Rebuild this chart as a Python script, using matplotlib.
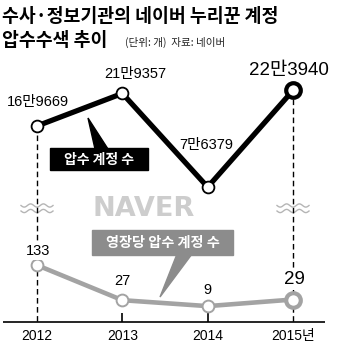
import numpy as np
import matplotlib
matplotlib.use('Agg')
import matplotlib.pyplot as plt
from matplotlib.patches import Rectangle, Polygon

plt.rcParams['font.family'] = ['Liberation Sans', 'Noto Sans CJK KR', 'DejaVu Sans']

years = [2012, 2013, 2014, 2015]
year_labels = ['2012', '2013', '2014', '2015년']
accounts = [169669, 219357, 76379, 223940]
account_labels = ['16만9669', '21만9357', '7만6379', '22만3940']
per_warrant = [133, 27, 9, 29]
per_warrant_labels = ['133', '27', '9', '29']

GRAY = '#a3a3a3'

fig = plt.figure(figsize=(3.5, 3.55), dpi=100)

# overlay for decorations, pixel coords
deco = fig.add_axes([0, 0, 1, 1])
deco.set_xlim(0, 350)
deco.set_ylim(355, 0)
deco.axis('off')

ax1 = fig.add_axes([0, 0, 1, 1], facecolor='none')
ax2 = fig.add_axes([0, 0, 1, 1], facecolor='none')
for ax in (ax1, ax2):
    ax.set_xlim(2011.566, 2015.668)
    ax.axis('off')
ax1.set_ylim(-180000, 362000)
ax2.set_ylim(-139, 936)

# title
deco.text(2, 16, '수사·정보기관의 네이버 누리꾼 계정', fontsize=13.2, fontweight='heavy',
          family='Noto Sans CJK KR', va='center', ha='left')
deco.text(2, 40, '압수수색 추이', fontsize=13.2, fontweight='heavy',
          family='Noto Sans CJK KR', va='center', ha='left')
deco.text(125, 42, '(단위: 개)  자료: 네이버', fontsize=7.6,
          family='Noto Sans CJK KR', va='center', ha='left', color='#222222')

# watermark
deco.text(144, 209, 'NAVER', fontsize=19.5, fontweight='heavy', family='DejaVu Sans',
          color='#cdcdcd', ha='center', va='center', zorder=1)

# x axis
ax2.hlines(-39, 2011.60, 2015.375, color='black', lw=1.2, zorder=2)
ax2.vlines([2013, 2014], -39, -12, color='black', lw=1.2, zorder=2)
for x, lab in zip(years, year_labels):
    ax2.annotate(lab, (x, -39), xytext=(0, -14), textcoords='offset pixels',
                 ha='center', va='center', fontsize=10)

# dashed guides at first and last year
for i in (0, 3):
    ax1.plot([years[i], years[i]], [accounts[i], -130000], color='black', lw=1,
             ls=(0, (4, 2.5)), zorder=2)

# break symbols
t = np.linspace(0, 1, 60)
for cx in (37, 293):
    deco.add_patch(Rectangle((cx - 17, 203), 34, 11, color='white', zorder=3))
    for dy in (205.5, 211):
        deco.plot(cx - 16 + 32 * t, dy + 1.6 * np.sin(t * 2 * np.pi * 2.5), color='#b5b5b5',
                  lw=1, zorder=4)

# top series
ax1.plot(years, accounts, color='black', lw=3.8, zorder=5, solid_joinstyle='miter')
ax1.plot(years[:3], accounts[:3], 'o', ms=8.5, mfc='white', mec='black', mew=1.3, zorder=6)
ax1.plot(years[3:], accounts[3:], 'o', ms=10.5, mfc='white', mec='black', mew=3, zorder=6)
top_offsets = [(1, 24), (13, 19), (-1, 42), (-4, 20)]
for i, (x, v, lab) in enumerate(zip(years, accounts, account_labels)):
    big = i == 3
    ax1.annotate(lab, (x, v), xytext=top_offsets[i], textcoords='offset pixels',
                 ha='center', va='center', fontsize=13.5 if big else 10.5)

# bottom series
ax2.plot(years, per_warrant, color=GRAY, lw=3.3, zorder=5)
ax2.plot(years[:3], per_warrant[:3], 'o', ms=8.5, mfc='white', mec=GRAY, mew=1.4, zorder=6)
ax2.plot(years[3:], per_warrant[3:], 'o', ms=10.5, mfc='white', mec=GRAY, mew=3, zorder=6)
bot_offsets = [(1, 14), (0, 19), (0, 16), (1, 20)]
for i, (x, v, lab) in enumerate(zip(years, per_warrant, per_warrant_labels)):
    big = i == 3
    ax2.annotate(lab, (x, v), xytext=bot_offsets[i], textcoords='offset pixels',
                 ha='center', va='center', fontsize=13.5 if big else 10.5, zorder=6,
                 bbox=dict(fc='white', ec='none', pad=1.5))

# callout boxes
deco.add_patch(Polygon([(88, 118), (95, 149), (108, 149)], closed=True, color='black', zorder=7))
deco.add_patch(Rectangle((50, 148), 98, 22, color='black', zorder=7))
deco.text(99, 159.5, '압수 계정 수', color='white', fontsize=10, fontweight='bold',
          family='Noto Sans CJK KR', ha='center', va='center', zorder=8)

deco.add_patch(Polygon([(160, 297), (177, 254), (192, 254)], closed=True, color='#8c8c8c', zorder=7))
deco.add_patch(Rectangle((92, 230), 141, 25, color='#8c8c8c', zorder=7))
deco.text(162.5, 242.5, '영장당 압수 계정 수', color='white', fontsize=10.2, fontweight='bold',
          family='Noto Sans CJK KR', ha='center', va='center', zorder=8)

fig.savefig('out.png', dpi=100)
